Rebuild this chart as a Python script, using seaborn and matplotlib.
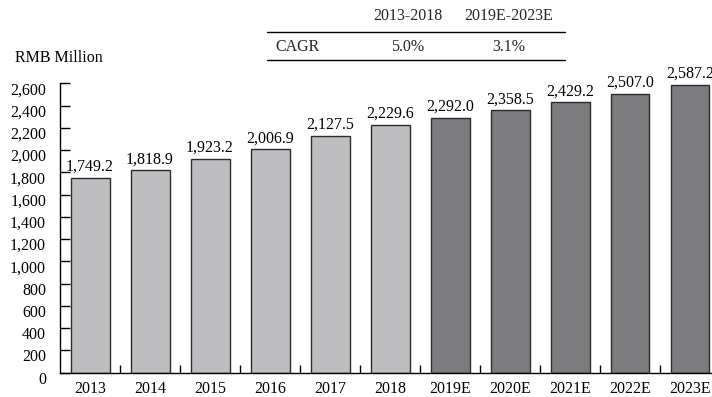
import matplotlib
matplotlib.use("Agg")
import matplotlib.pyplot as plt
import matplotlib.transforms as mtransforms
from matplotlib.lines import Line2D
from matplotlib.ticker import FuncFormatter, MultipleLocator, FixedLocator
import seaborn as sns
import pandas as pd

years = ["2013", "2014", "2015", "2016", "2017", "2018",
         "2019E", "2020E", "2021E", "2022E", "2023E"]
values = [1749.2, 1818.9, 1923.2, 2006.9, 2127.5, 2229.6,
          2292.0, 2358.5, 2429.2, 2507.0, 2587.2]
kinds = ["Actual"] * 6 + ["Forecast"] * 5
cagr_periods = ["2013-2018", "2019E-2023E"]
cagr_values = ["5.0%", "3.1%"]
unit_label = "RMB Million"

sns.set_theme(style="white")
plt.rcParams["font.family"] = ["Liberation Serif", "DejaVu Serif"]
plt.rcParams["font.size"] = 11.5

df = pd.DataFrame({"year": years, "value": values, "kind": kinds})

fig = plt.figure(figsize=(7.12, 3.97), dpi=100)
ax = fig.add_axes([60 / 712, 24.3 / 397, 660 / 712, 289.4 / 397])

sns.barplot(data=df, x="year", y="value", hue="kind",
            palette={"Actual": "#bdbec2", "Forecast": "#7b7c80"},
            dodge=False, width=0.65, edgecolor="#2b2b2b", linewidth=1.0,
            legend=False, ax=ax)

ax.set_xlim(-0.5, len(years) - 0.5)
ax.set_ylim(0, 2600)
ax.set_xlabel("")
ax.set_ylabel("")

for side in ("top", "right"):
    ax.spines[side].set_visible(False)
for side in ("left", "bottom"):
    ax.spines[side].set_color("black")
    ax.spines[side].set_linewidth(1.0)

ax.yaxis.set_major_locator(MultipleLocator(200))
ax.yaxis.set_major_formatter(FuncFormatter(lambda v, p: f"{int(v):,}"))
ax.tick_params(axis="y", direction="in", length=7, width=1.0, color="black",
               pad=10, labelsize=11.5, labelcolor="black", left=True)
shift = mtransforms.ScaledTranslation(0, -0.05, fig.dpi_scale_trans)
for lab in ax.get_yticklabels():
    lab.set_transform(lab.get_transform() + shift)

ax.tick_params(axis="x", which="major", length=0, pad=6, labelsize=11.5,
               labelcolor="black")
ax.xaxis.set_minor_locator(FixedLocator([i + 0.5 for i in range(len(years) - 1)]))
ax.tick_params(axis="x", which="minor", direction="in", length=6, width=1.0,
               color="black", bottom=True)

for i, v in enumerate(values):
    ax.annotate(f"{v:,.1f}", xy=(i, v), xytext=(0, 5), textcoords="offset points",
                ha="center", va="baseline", fontsize=11.5, color="black")

# CAGR summary table above the plot
fig.text(15 / 712, 1 - 58 / 397, unit_label, ha="left", va="center",
         fontsize=11.5, color="black")
col_x = [407.5 / 712, 509 / 712]
for cx, period, rate in zip(col_x, cagr_periods, cagr_values):
    fig.text(cx, 1 - 16 / 397, period, ha="center", va="center", fontsize=11.5)
    fig.text(cx, 1 - 46.7 / 397, rate, ha="center", va="center", fontsize=11.5)
fig.text(275 / 712, 1 - 46.7 / 397, "CAGR", ha="left", va="center", fontsize=11.5)
for ly in (32.3, 60.0):
    fig.add_artist(Line2D([267 / 712, 565 / 712], [1 - ly / 397, 1 - ly / 397],
                          transform=fig.transFigure, color="black", linewidth=1.0))

fig.savefig("out.png", dpi=100)
